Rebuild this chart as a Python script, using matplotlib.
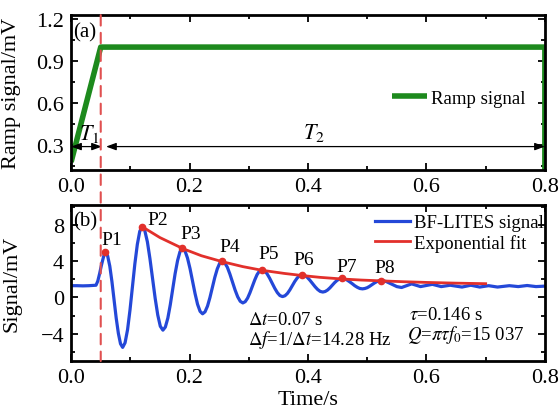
import matplotlib
matplotlib.use("Agg")
import matplotlib.pyplot as plt
from matplotlib.patches import ConnectionPatch
from matplotlib.ticker import MultipleLocator

plt.rcParams['font.family'] = ['Liberation Serif', 'DejaVu Serif']
plt.rcParams['mathtext.fontset'] = 'stix'

# ---------------- data ----------------
ramp_t = [0.0, 0.05, 0.8, 0.8]
ramp_v = [0.18, 1.0, 1.0, 0.0]

sig_t = [0.0, 0.01, 0.02, 0.03, 0.042, 0.045, 0.048, 0.051, 0.054, 0.056, 0.058,
         0.0616, 0.0653, 0.0689, 0.0725, 0.0761, 0.0798, 0.0834, 0.087,
         0.0911, 0.0953, 0.0994, 0.1035, 0.1076, 0.1118, 0.1159, 0.120,
         0.1244, 0.1288, 0.1331, 0.1375, 0.1419, 0.1463, 0.1506, 0.155,
         0.1591, 0.1633, 0.1674, 0.1715, 0.1756, 0.1798, 0.1839, 0.188,
         0.1923, 0.1965, 0.2008, 0.2050, 0.2093, 0.2135, 0.2178, 0.222,
         0.2261, 0.2303, 0.2344, 0.2385, 0.2426, 0.2468, 0.2509, 0.255,
         0.2594, 0.2638, 0.2681, 0.2725, 0.2769, 0.2813, 0.2856, 0.290,
         0.294, 0.298, 0.302, 0.306, 0.310, 0.314, 0.318, 0.322,
         0.3264, 0.3308, 0.3351, 0.3395, 0.3439, 0.3483, 0.3526, 0.357,
         0.3611, 0.3653, 0.3694, 0.3735, 0.3776, 0.3818, 0.3859, 0.390,
         0.3944, 0.3988, 0.4031, 0.4075, 0.4119, 0.4163, 0.4206, 0.425,
         0.429, 0.433, 0.437, 0.441, 0.445, 0.449, 0.453, 0.457,
         0.4614, 0.4658, 0.4701, 0.4745, 0.4789, 0.4833, 0.4876, 0.492,
         0.496, 0.500, 0.504, 0.508, 0.512, 0.516, 0.520, 0.524,
         0.532, 0.541, 0.550, 0.558,
         0.575, 0.590, 0.610, 0.625, 0.640, 0.660, 0.675, 0.690, 0.705,
         0.720, 0.740, 0.755, 0.770, 0.785, 0.800]
sig_v = [1.3, 1.3, 1.28, 1.3, 1.35, 1.8, 2.6, 3.5, 4.3, 4.75, 5.0,
         4.60, 3.46, 1.76, -0.25, -2.26, -3.96, -5.10, -5.5,
         -4.99, -3.55, -1.39, 1.15, 3.69, 5.85, 7.29, 7.8,
         7.37, 6.13, 4.28, 2.1, -0.08, -1.93, -3.17, -3.6,
         -3.26, -2.28, -0.82, 0.9, 2.62, 4.08, 5.06, 5.4,
         5.13, 4.35, 3.18, 1.8, 0.42, -0.75, -1.53, -1.8,
         -1.58, -0.95, -0.01, 1.1, 2.21, 3.15, 3.78, 4.0,
         3.82, 3.33, 2.58, 1.7, 0.82, 0.07, -0.42, -0.6,
         -0.46, -0.07, 0.53, 1.23, 1.92, 2.52, 2.91, 3.05,
         2.94, 2.62, 2.14, 1.58, 1.01, 0.53, 0.21, 0.1,
         0.19, 0.45, 0.84, 1.3, 1.76, 2.15, 2.41, 2.5,
         2.43, 2.22, 1.91, 1.55, 1.19, 0.88, 0.67, 0.6,
         0.66, 0.82, 1.06, 1.35, 1.64, 1.88, 2.04, 2.1,
         2.06, 1.93, 1.74, 1.53, 1.30, 1.12, 0.99, 0.95,
         0.99, 1.08, 1.23, 1.41, 1.59, 1.74, 1.83, 1.87,
         1.76, 1.48, 1.2, 1.1,
         1.5, 1.2, 1.45, 1.2, 1.35, 1.15, 1.35, 1.15, 1.3,
         1.15, 1.3, 1.2, 1.32, 1.2, 1.25]

fit_t = [0.12, 0.15, 0.19, 0.22, 0.255, 0.29, 0.322, 0.36, 0.39, 0.42,
         0.457, 0.49, 0.524, 0.56, 0.60, 0.65, 0.70]
fit_v = [7.8, 6.6, 5.35, 4.6, 3.95, 3.4, 3.0, 2.65, 2.42, 2.22,
         2.04, 1.92, 1.83, 1.74, 1.66, 1.58, 1.52]

peak_names = ['P1', 'P2', 'P3', 'P4', 'P5', 'P6', 'P7', 'P8']
peak_t = [0.058, 0.120, 0.188, 0.255, 0.322, 0.390, 0.457, 0.524]
peak_v = [5.0, 7.8, 5.4, 4.0, 3.05, 2.5, 2.1, 1.87]
label_t = [0.069, 0.147, 0.202, 0.268, 0.333, 0.392, 0.465, 0.530]
label_v = [6.4, 8.6, 7.1, 5.65, 4.9, 4.2, 3.45, 3.3]

x_ticks = [0.0, 0.2, 0.4, 0.6, 0.8]
y1_ticks = [0.3, 0.6, 0.9, 1.2]
y2_ticks = [-4, 0, 4, 8]

t_mark = 0.05

GREEN = '#1d8a1d'
BLUE = '#2448d8'
RED = '#e2302b'
DASH = '#e05050'

fig = plt.figure(figsize=(5.6, 4.14), dpi=100)
ax1 = fig.add_axes([0.127, 0.587, 0.846, 0.374])
ax2 = fig.add_axes([0.127, 0.1256, 0.846, 0.377])

for ax in (ax1, ax2):
    ax.set_xlim(0, 0.8)
    ax.set_xticks(x_ticks)
    ax.xaxis.set_minor_locator(MultipleLocator(0.1))
    ax.tick_params(which='both', direction='in', top=True, right=True,
                   labelsize=16, width=1.3, pad=5)
    ax.tick_params(which='major', length=5)
    ax.tick_params(which='minor', length=3)
    ax.set_xticklabels([f'{v:.1f}' for v in x_ticks])
    for s in ax.spines.values():
        s.set_linewidth(2)

# ---- panel (a) ----
ax1.set_ylim(0.123, 1.228)
ax1.set_yticks(y1_ticks)
ax1.set_yticklabels([f'{v:.1f}' for v in y1_ticks])
ax1.yaxis.set_minor_locator(MultipleLocator(0.15))
ax1.plot(ramp_t, ramp_v, color=GREEN, lw=4, label='Ramp signal', solid_capstyle='butt')
ax1.set_ylabel('Ramp signal/mV', fontsize=16)
ax1.yaxis.set_label_coords(-0.105, 0.5)
ax1.text(0.004, 1.11, '(a)', fontsize=15, va='center', ha='left')

arrow_y = 0.29
ap = dict(arrowstyle='<|-|>,head_length=0.6,head_width=0.22', color='black',
          lw=0.9, shrinkA=0, shrinkB=0, mutation_scale=10)
ax1.annotate('', xy=(0.0, arrow_y), xytext=(0.052, arrow_y), arrowprops=ap)
ax1.annotate('', xy=(0.059, arrow_y), xytext=(0.8, arrow_y), arrowprops=ap,
             annotation_clip=False)
ax1.text(0.013, 0.385, r'$T_1$', fontsize=16, ha='left', va='center')
ax1.text(0.41, 0.395, r'$T_2$', fontsize=16, ha='center', va='center')

ax1.legend(loc='center left', bbox_to_anchor=(0.677, 0.465), frameon=False,
           fontsize=13.5, handlelength=1.9, handletextpad=0.2,
           borderpad=0, borderaxespad=0)

# ---- panel (b) ----
ax2.set_ylim(-7.0, 10.2)
ax2.set_yticks(y2_ticks)
ax2.yaxis.set_minor_locator(MultipleLocator(2))
ax2.plot(sig_t, sig_v, color=BLUE, lw=2.3, label='BF-LITES signal')
ax2.plot(fit_t, fit_v, color=RED, lw=2.0, label='Exponential fit')
ax2.plot(peak_t, peak_v, 'o', color=RED, ms=4.5, zorder=5)
for n, tx, ty in zip(peak_names, label_t, label_v):
    ax2.text(tx, ty, n, fontsize=14, ha='center', va='center')
ax2.set_ylabel('Signal/mV', fontsize=16)
ax2.yaxis.set_label_coords(-0.105, 0.5)
ax2.set_xlabel('Time/s', fontsize=16, labelpad=2)
ax2.text(0.004, 8.4, '(b)', fontsize=15, va='center', ha='left')

ax2.text(0.298, -2.4, r'$\Delta t$=0.07 s', fontsize=13.5, ha='left', va='center')
ax2.text(0.298, -4.6, r'$\Delta f$=1/$\Delta t$=14.28 Hz', fontsize=13.5, ha='left', va='center')
ax2.text(0.570, -1.9, r'$\tau$=0.146 s', fontsize=13.5, ha='left', va='center')
ax2.text(0.568, -4.0, r'$Q$=$\pi\tau f_0$=15 037', fontsize=13.5, ha='left', va='center')

ax2.legend(loc='center left', bbox_to_anchor=(0.641, 0.82), frameon=False,
           fontsize=13.5, handlelength=1.9, handletextpad=0.2,
           borderpad=0, borderaxespad=0, labelspacing=0.15)

# dashed marker line spanning both panels
con = ConnectionPatch(xyA=(t_mark, 1.228), coordsA=ax1.transData,
                      xyB=(t_mark, -7.0), coordsB=ax2.transData,
                      color=DASH, lw=1.5, linestyle=(0, (5, 3.5)), zorder=10)
fig.add_artist(con)

fig.savefig('out.png', dpi=100)
